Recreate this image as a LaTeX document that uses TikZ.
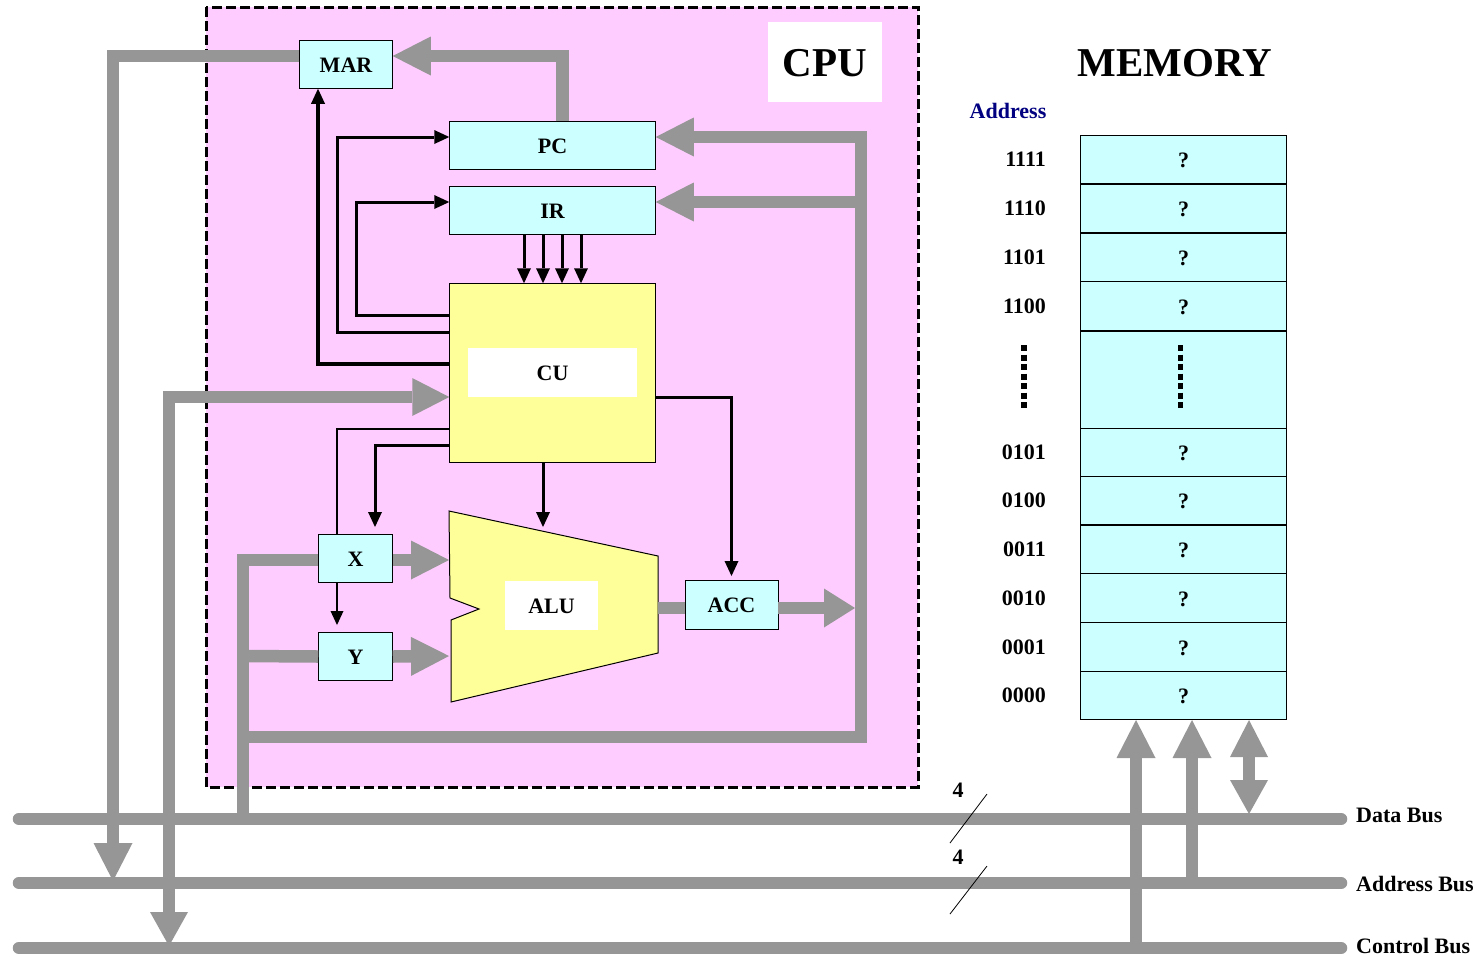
\documentclass[tikz,border=0pt]{standalone}
\usepackage{xcolor}
\usepackage{fontspec}
\setmainfont{Liberation Serif}
\usepackage{tikz}
\usetikzlibrary{arrows.meta}
\definecolor{cpupink}{HTML}{FFCCFF}
\definecolor{regcyan}{HTML}{CCFFFF}
\definecolor{unityellow}{HTML}{FFFF99}
\definecolor{busgray}{HTML}{969696}
\definecolor{addrblue}{HTML}{000080}
\newcommand{\lbl}{\fontsize{22}{24}\selectfont\bfseries}
\newcommand{\ttl}{\fontsize{41}{44}\selectfont\bfseries}
\tikzset{
  regbox/.style={draw=black, fill=regcyan, line width=1pt, outer sep=0pt, inner sep=0pt, font=\lbl,
    text height=15pt, text depth=0pt},
  unitlabel/.style={fill=white, outer sep=0pt, inner sep=0pt, font=\lbl, text height=15pt, text depth=0pt},
  memcell/.style={regbox, minimum width=206.5pt, minimum height=48.8pt, text height=16.5pt},
  buswire/.style={draw=busgray, line width=12.5pt},
  busarrow/.style={buswire, -{Triangle[length=38pt,width=39pt,line width=0pt 0]}},
  busboth/.style={buswire, {Triangle[length=37pt,width=38pt,line width=0pt 0]}-{Triangle[length=34pt,width=38pt,line width=0pt 0]}},
  ctrl/.style={draw=black, line width=3pt, -{Triangle[length=15pt,width=14pt,line width=0pt 0]}},
  ctrlthin/.style={draw=black, line width=2pt, -{Triangle[length=14pt,width=13pt,line width=0pt 0]}},
  dotbar/.style={draw=black, line width=6pt, dash pattern=on 6pt off 3.5pt},
  busname/.style={anchor=west, inner sep=0pt, font=\lbl}
}
\begin{document}
\begin{tikzpicture}[x=1pt, y=-1pt]
  \useasboundingbox (0,0) rectangle (1482,956);

  % CPU frame
  \draw[fill=cpupink, draw=black, line width=3pt, dash pattern=on 10pt off 4pt] (206,7) rectangle (918,787);
  \node[fill=white, minimum width=114pt, minimum height=80pt, inner sep=0pt, font=\ttl] (cputitle) at (825,62) {};
  \node[inner sep=0pt, font=\ttl] (cpuname) at (825,63) {CPU};
  \node[inner sep=0pt, font=\ttl] (memtitle) at (1175,63) {MEMORY};
  \node[inner sep=0pt, font=\lbl, text=addrblue] (addrtitle) at (1008,111) {Address};

  % registers and units
  \node[regbox, minimum width=93.5pt, minimum height=48.5pt] (mar) at (346,64.5) {MAR};
  \node[regbox, minimum width=206.5pt, minimum height=48.5pt] (pc) at (552.5,145.5) {PC};
  \node[regbox, minimum width=206.5pt, minimum height=48.5pt] (ir) at (552.5,210.5) {IR};
  \node[regbox, fill=unityellow, minimum width=206.5pt, minimum height=179.5pt] (cu) at (552.5,373) {};
  \node[unitlabel, minimum width=169pt, minimum height=49pt] (culabel) at (552.5,372.5) {CU};
  \node[regbox, minimum width=74.5pt, minimum height=48.5pt] (xreg) at (355.5,558.5) {X};
  \node[regbox, minimum width=74.5pt, minimum height=48.5pt] (yreg) at (355.5,656.5) {Y};
  \node[regbox, minimum width=93pt, minimum height=48.5pt] (acc) at (731.5,605) {ACC};
  \draw[fill=unityellow, draw=black, line width=1pt] (449,511) -- (658,556) -- (658,653) -- (451,702)
    -- (451,620) -- (479,609) -- (450,598) -- cycle;
  \node[unitlabel, minimum width=93pt, minimum height=49pt] (alulabel) at (551.5,605.5) {ALU};
  \coordinate (alux) at (449,560);
  \coordinate (aluy) at (449,656);
  \coordinate (alutop) at (543,527);
  \coordinate (aluout) at (658,608);

  % memory
  \foreach \id/\addr/\cy in {m15/1111/159.5, m14/1110/208.5, m13/1101/257.5, m12/1100/306,
      m5/0101/452, m4/0100/500.5, m3/0011/549.5, m2/0010/598, m1/0001/647, m0/0000/695.5} {
    \node[memcell] (\id) at (1183.5,\cy) {?};
    \node[anchor=east, inner sep=0pt, font=\lbl] (lbl\id) at (1046,\cy) {\addr};
  }
  \node[regbox, minimum width=206.5pt, minimum height=97pt] (memgap) at (1183.5,379.5) {};
  \draw[dotbar, line width=5pt] ([xshift=-3.5pt,yshift=34.5pt]memgap.center) -- ([xshift=-3.5pt,yshift=-28.5pt]memgap.center);
  \coordinate (addrgap) at (1024,376.5);
  \draw[dotbar] ([yshift=31.5pt]addrgap) -- ([yshift=-31.5pt]addrgap);

  % buses
  \node[busname] (databus) at (1356,815) {Data Bus};
  \node[busname] (addrbus) at (1356,884) {Address Bus};
  \node[busname] (ctrlbus) at (1356,946) {Control Bus};
  \coordinate (datawest) at (19,819);
  \coordinate (dataeast) at (1341,819);
  \coordinate (addrwest) at (19,883);
  \coordinate (addreast) at (1341,883);
  \coordinate (ctrlwest) at (19,948);
  \coordinate (ctrleast) at (1341,948);
  \draw[buswire, line cap=round] (datawest) -- (dataeast);
  \draw[buswire, line cap=round] (addrwest) -- (addreast);
  \draw[buswire, line cap=round] (ctrlwest) -- (ctrleast);

  % thick data paths
  \draw[busarrow] ([yshift=8.5pt]mar.west) -| (113,881);
  \draw[busarrow] ([xshift=10pt]pc.north) |- ([yshift=8.5pt]mar.east);
  \draw[busboth] (cu.west |- 0,397) -| (169,946);
  \draw[buswire] (243,819) -- (243,560) -- ([yshift=-1.5pt]xreg.west);
  \draw[buswire] (243,656) -- (yreg.west);
  \draw[buswire] (243,737) -- (861,737) -- (861,131);
  \draw[busarrow] (861,137) -- ([yshift=8.5pt]pc.east);
  \draw[busarrow] (861,202) -- ([yshift=8.5pt]ir.east);
  \draw[busarrow] ([yshift=-1.5pt]xreg.east) -- (alux);
  \draw[busarrow] (yreg.east) -- (aluy);
  \draw[buswire] (aluout) -- (acc.west |- aluout);
  \draw[busarrow, -{Triangle[length=31pt,width=39pt,line width=0pt 0]}] (acc.east |- aluout) -- (855,608);

  % memory connections
  \draw[busarrow] (1136,948) -- (1136,720);
  \draw[busarrow] (1192,883) -- (1192,720);
  \draw[busboth] (1249,720) -- (1249,814);

  % control lines
  \draw[ctrl, line width=3.5pt] ([yshift=9pt]cu.west) -| (mar.south -| 318,89);
  \draw[ctrl] ([yshift=41pt]cu.west) -| (337,137) -- ([yshift=8.5pt]pc.west);
  \draw[ctrl] ([yshift=58pt]cu.west) -| (356,202) -- ([yshift=8.5pt]ir.west);
  \foreach \dx in {-28.5,-9.5,9.5,28.5} {
    \draw[ctrl] ([xshift=\dx pt]ir.south) -- ([xshift=\dx pt]cu.north);
  }
  \draw[ctrlthin, -] ([yshift=-56pt]cu.west) -| ([xshift=-18.5pt]xreg.north);
  \draw[ctrlthin] ([xshift=-18.5pt]xreg.south) -- (337,625);
  \draw[ctrl] ([yshift=-72pt]cu.west) -| (375,527);
  \draw[ctrl] (cu.south -| alutop) -- (alutop);
  \draw[ctrl] (cu.east |- 0,397) -| (acc.north |- 0,576);

  % bus width marks
  \node[inner sep=0pt, font=\lbl] (dwidth) at (958,790) {4};
  \node[inner sep=0pt, font=\lbl] (awidth) at (958,857) {4};
  \draw[line width=0.8pt] (987,794) -- (950,843);
  \draw[line width=0.8pt] (987,866) -- (950,914);
\end{tikzpicture}
\end{document}
